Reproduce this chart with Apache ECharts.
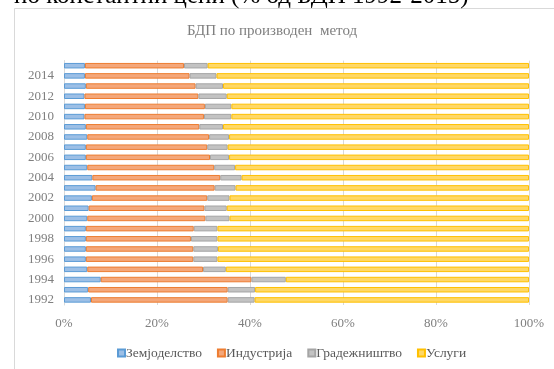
<!DOCTYPE html>
<html><head><meta charset="utf-8">
<script src="https://cdn.jsdelivr.net/npm/echarts@6/dist/echarts.min.js"></script>
<style>html,body{margin:0;padding:0;background:#fff}#c{width:554px;height:369px}</style>
</head><body><div id="c"></div>
<script>
var years = ['1992','1993','1994','1995','1996','1997','1998','1999','2000','2001','2002','2003','2004','2005','2006','2007','2008','2009','2010','2011','2012','2013','2014','2015'];
var agriculture = [5.8,5.2,7.9,5.0,4.7,4.7,4.7,4.7,5.0,5.3,6.0,6.8,6.1,5.0,4.7,4.7,5.0,4.7,4.4,4.5,4.4,4.7,4.5,4.5];
var industry = [29.4,30.0,32.4,24.9,23.1,23.1,22.6,23.2,25.4,24.9,24.8,25.6,27.5,27.3,26.7,26.1,26.2,24.4,25.7,25.8,24.5,23.6,22.5,21.3];
var construction = [5.8,5.9,7.4,4.9,5.2,5.3,5.7,5.1,5.2,4.8,4.8,4.5,4.6,4.5,4.1,4.4,4.3,5.1,5.9,5.7,6.1,5.9,5.8,5.1];
var services = [59.0,58.9,52.3,65.2,67.0,66.9,67.0,67.0,64.4,65.0,64.4,63.1,61.8,63.2,64.5,64.8,64.5,65.8,64.0,64.0,65.0,65.8,67.2,69.1];
var seriesNames = ['Земјоделство','Индустрија','Градежништво','Услуги'];
var xTicks = [0,20,40,60,80,100];

var font = '"Liberation Serif", "DejaVu Serif", serif';
var fills = ['#9CBFE6','#F4A77A','#C3C3C3','#FFD866'];
var borders = ['#5B9BD5','#ED7D31','#A5A5A5','#FFC000'];
var datasets = [agriculture, industry, construction, services];

var chart = echarts.init(document.getElementById('c'), null, {renderer:'canvas'});
chart.setOption({
  animation:false,
  backgroundColor:'#fff',
  graphic:[
    {type:'rect', shape:{x:14.5,y:8.5,width:560,height:380}, style:{fill:'#fff',stroke:'#D9D9D9',lineWidth:1}, z:-10},
    {type:'text', x:14, y:-16, z:10, style:{text:'по константни цени (% од БДП 1992-2015)', font:'25px "Liberation Serif", serif', fill:'#000'}},
    {type:'text', x:272, y:24, z:10, style:{text:'БДП по производен  метод', font:'15px "Liberation Serif", serif', fill:'#7F7F7F', textAlign:'center'}}
  ],
  grid:{left:64, right:25, top:60.6, bottom:64, containLabel:false},
  legend:{top:341, left:112, itemWidth:7, itemHeight:7, itemGap:15,
    icon:'rect',
    textStyle:{fontFamily:font, fontSize:13.5, color:'#595959', padding:[0,0,0,-4]},
    data:seriesNames},
  xAxis:{type:'value', min:0, max:100, interval:20,
    axisLabel:{formatter:function(v){return v+'%';}, fontFamily:font, fontSize:13, color:'#7F7F7F', margin:12},
    axisLine:{show:false}, axisTick:{show:false},
    splitLine:{lineStyle:{color:'#D9D9D9', width:1}}},
  yAxis:{type:'category', data:years,
    axisLabel:{interval:1, fontFamily:font, fontSize:13, color:'#7F7F7F', margin:10},
    axisLine:{show:true, lineStyle:{color:'#D9D9D9'}}, axisTick:{show:false}},
  series: seriesNames.map(function(n,i){
    return {name:n, type:'bar', stack:'a', barWidth:5.5, data:datasets[i],
      itemStyle:{color:fills[i], borderColor:borders[i], borderWidth:1}};
  })
});
</script></body></html>
